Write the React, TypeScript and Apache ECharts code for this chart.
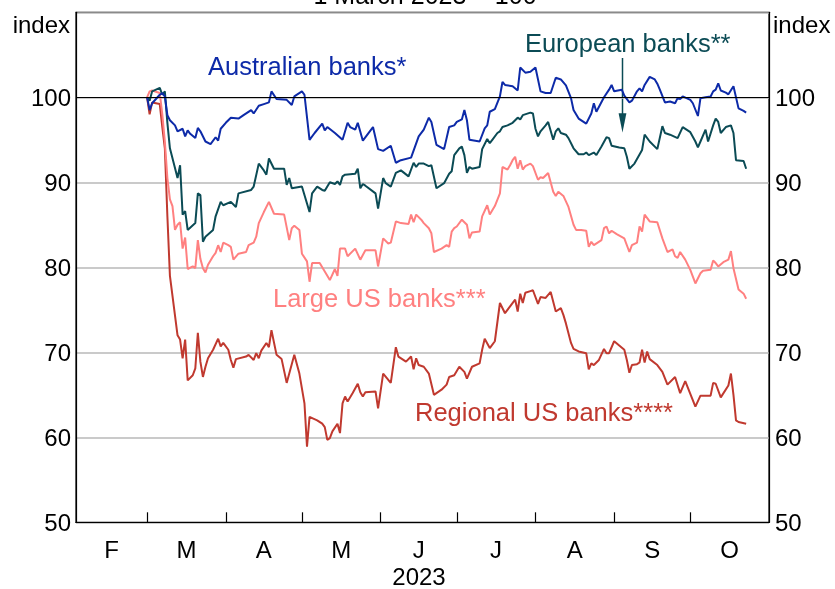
import { useEffect, useRef } from "react";
import * as echarts from "echarts";

const monthStarts = ["02-01", "03-01", "04-01", "05-01", "06-01", "07-01", "08-01", "09-01", "10-01", "11-01"];
const monthLabels = ["F", "M", "A", "M", "J", "J", "A", "S", "O"];
const yearLabel = "2023";
const yTickValues = [50, 60, 70, 80, 90, 100];

const australianBanks: [string, number][] = [
  ["03-01", 100], ["03-02", 98.5], ["03-03", 99.3], ["03-06", 100.3], ["03-07", 100.5], ["03-08", 100.1], ["03-09", 97.9], ["03-10", 97.3], ["03-12", 96.7], ["03-13", 96.0], ["03-15", 96.3], ["03-16", 95.4], ["03-17", 96.1], ["03-18", 95.7], ["03-20", 95.2], ["03-21", 96.4], ["03-22", 96.0], ["03-24", 94.8], ["03-26", 94.5], ["03-28", 95.3], ["03-29", 94.9], ["03-30", 96.3],
  ["04-01", 97.0], ["04-03", 97.6], ["04-06", 97.5], ["04-08", 97.9], ["04-11", 98.5], ["04-12", 98.1], ["04-14", 99.0], ["04-16", 99.2], ["04-18", 99.4], ["04-19", 100.7], ["04-21", 99.8], ["04-25", 99.7], ["04-27", 99.1], ["04-28", 100.1],
  ["05-01", 100.7], ["05-02", 100.3], ["05-04", 95.0], ["05-06", 95.8], ["05-09", 96.9], ["05-10", 96.1], ["05-11", 96.5], ["05-14", 95.8], ["05-17", 95.0], ["05-19", 97.0], ["05-20", 96.5], ["05-22", 96.2], ["05-23", 97.0], ["05-25", 94.9], ["05-29", 96.5], ["05-31", 93.9],
  ["06-02", 93.7], ["06-05", 94.3], ["06-07", 92.3], ["06-09", 92.6], ["06-13", 92.9], ["06-16", 95.4], ["06-18", 96.2], ["06-20", 97.6], ["06-21", 97.1], ["06-23", 94.4], ["06-26", 93.9], ["06-28", 96.5], ["06-30", 96.7],
  ["07-01", 97.1], ["07-03", 97.4], ["07-04", 98.5], ["07-05", 97.3], ["07-06", 95.0], ["07-10", 94.8], ["07-12", 96.35], ["07-13", 96.7], ["07-14", 98.3], ["07-16", 98.6], ["07-18", 100.1], ["07-19", 101.8], ["07-20", 101.45], ["07-23", 101.3], ["07-25", 100.8], ["07-26", 103.5], ["07-28", 102.9], ["07-30", 103.0],
  ["08-01", 103.5], ["08-03", 100.7], ["08-05", 100.5], ["08-07", 100.5], ["08-09", 102.3], ["08-11", 102.1], ["08-13", 101.4], ["08-15", 99.9], ["08-16", 98.5], ["08-18", 97.5], ["08-21", 96.9], ["08-23", 98.1], ["08-24", 99.3], ["08-25", 98.3], ["08-28", 100.0], ["08-30", 100.9], ["08-31", 101.45],
  ["09-01", 100.7], ["09-04", 100.9], ["09-05", 100.2], ["09-07", 99.4], ["09-08", 99.6], ["09-10", 100.7], ["09-11", 101.05], ["09-12", 100.7], ["09-13", 101.45], ["09-15", 102.4], ["09-17", 102.1], ["09-18", 101.6], ["09-19", 100.9], ["09-21", 99.4], ["09-23", 99.5], ["09-25", 99.3], ["09-26", 99.9], ["09-27", 99.8], ["09-28", 100.1],
  ["10-01", 99.7], ["10-02", 99.3], ["10-04", 97.8], ["10-05", 99.9], ["10-07", 100.0], ["10-09", 100.1], ["10-10", 100.7], ["10-11", 100.9], ["10-12", 101.65], ["10-13", 100.8], ["10-15", 100.55], ["10-16", 100.35], ["10-18", 101.3], ["10-20", 98.7], ["10-22", 98.4], ["10-23", 98.2],
];

const europeanBanks: [string, number][] = [
  ["03-01", 100], ["03-02", 99.6], ["03-03", 100.7], ["03-06", 101.1], ["03-07", 100.3], ["03-08", 100.7], ["03-09", 97.0], ["03-10", 94.0], ["03-13", 90.5], ["03-14", 92.0], ["03-15", 86.2], ["03-16", 86.6], ["03-17", 84.4], ["03-20", 85.2], ["03-21", 88.7], ["03-22", 88.5], ["03-23", 83.0], ["03-24", 83.6], ["03-27", 84.4], ["03-28", 86.0], ["03-30", 87.7], ["03-31", 87.3],
  ["04-03", 87.7], ["04-05", 87.1], ["04-06", 88.7], ["04-11", 89.1], ["04-12", 89.5], ["04-14", 92.2], ["04-16", 91.4], ["04-17", 90.9], ["04-18", 92.8], ["04-20", 91.6], ["04-24", 91.6], ["04-25", 89.7], ["04-26", 90.5], ["04-27", 89.3],
  ["05-01", 89.5], ["05-03", 87.5], ["05-04", 86.5], ["05-05", 88.7], ["05-07", 89.5], ["05-09", 89.1], ["05-10", 89.0], ["05-12", 90.0], ["05-14", 89.8], ["05-15", 90.1], ["05-16", 89.7], ["05-17", 90.7], ["05-18", 90.9], ["05-22", 91.0], ["05-23", 91.6], ["05-24", 89.3], ["05-25", 89.8], ["05-26", 89.6], ["05-30", 88.7], ["05-31", 86.9],
  ["06-02", 90.5], ["06-03", 89.9], ["06-05", 89.5], ["06-07", 91.1], ["06-09", 91.4], ["06-12", 90.7], ["06-14", 92.3], ["06-15", 91.8], ["06-16", 92.2], ["06-18", 92.2], ["06-20", 91.9], ["06-21", 92.0], ["06-23", 89.3], ["06-26", 89.9], ["06-28", 91.0], ["06-29", 91.3], ["06-30", 93.2],
  ["07-02", 94.0], ["07-03", 94.2], ["07-04", 93.2], ["07-05", 91.1], ["07-06", 91.8], ["07-07", 91.6], ["07-10", 91.8], ["07-11", 93.9], ["07-13", 95.1], ["07-14", 94.6], ["07-15", 95.0], ["07-17", 95.8], ["07-18", 96.0], ["07-19", 96.5], ["07-21", 96.7], ["07-23", 97.0], ["07-24", 97.3], ["07-25", 97.6], ["07-26", 97.4], ["07-27", 97.9], ["07-30", 98.2], ["07-31", 98.1],
  ["08-01", 96.3], ["08-02", 95.4], ["08-03", 96.0], ["08-05", 96.7], ["08-06", 97.1], ["08-08", 95.0], ["08-09", 96.0], ["08-10", 96.35], ["08-11", 95.8], ["08-13", 95.6], ["08-14", 95.2], ["08-16", 94.0], ["08-18", 93.3], ["08-20", 93.3], ["08-21", 93.5], ["08-22", 93.2], ["08-24", 93.5], ["08-25", 93.2], ["08-27", 94.2], ["08-29", 95.3], ["08-30", 95.2], ["08-31", 94.3],
  ["09-03", 94.1], ["09-05", 94.0], ["09-06", 93.0], ["09-07", 91.6], ["09-09", 92.2], ["09-12", 93.8], ["09-13", 95.6], ["09-15", 94.8], ["09-18", 93.9], ["09-20", 96.6], ["09-21", 95.8], ["09-23", 95.6], ["09-26", 95.2], ["09-28", 96.5],
  ["10-01", 95.9], ["10-03", 94.8], ["10-04", 94.1], ["10-05", 94.8], ["10-07", 96.2], ["10-08", 94.8], ["10-10", 96.7], ["10-11", 97.5], ["10-12", 97.1], ["10-13", 95.8], ["10-15", 96.5], ["10-17", 96.7], ["10-18", 95.8], ["10-19", 92.6], ["10-22", 92.5], ["10-23", 91.6],
];

const largeUSBanks: [string, number][] = [
  ["03-01", 100], ["03-02", 100.7], ["03-03", 100.8], ["03-06", 100.5], ["03-07", 98.0], ["03-08", 94.8], ["03-09", 90.5], ["03-10", 88.0], ["03-11", 87.2], ["03-12", 84.4], ["03-13", 85.0], ["03-14", 85.3], ["03-15", 82.2], ["03-16", 83.5], ["03-17", 79.8], ["03-19", 80.1], ["03-20", 79.9], ["03-21", 83.2], ["03-22", 81.0], ["03-23", 79.9], ["03-24", 79.4], ["03-25", 80.3], ["03-27", 81.3], ["03-28", 81.7], ["03-29", 82.6], ["03-30", 81.8], ["03-31", 82.9],
  ["04-02", 82.6], ["04-03", 82.4], ["04-04", 80.9], ["04-06", 81.6], ["04-09", 81.8], ["04-10", 82.6], ["04-12", 82.9], ["04-13", 83.6], ["04-14", 85.2], ["04-16", 86.5], ["04-18", 87.7], ["04-20", 86.3], ["04-24", 86.2], ["04-26", 83.2], ["04-27", 84.6], ["04-28", 84.9], ["04-30", 84.4],
  ["05-01", 81.6], ["05-03", 80.7], ["05-04", 78.3], ["05-05", 80.5], ["05-08", 80.5], ["05-10", 79.5], ["05-12", 78.5], ["05-14", 79.8], ["05-15", 79.0], ["05-16", 82.2], ["05-18", 82.2], ["05-19", 81.3], ["05-22", 82.2], ["05-24", 80.9], ["05-26", 82.0], ["05-30", 82.0], ["05-31", 80.1],
  ["06-02", 83.4], ["06-04", 82.8], ["06-05", 82.9], ["06-07", 85.4], ["06-09", 85.2], ["06-12", 85.1], ["06-13", 86.2], ["06-14", 85.3], ["06-15", 86.2], ["06-17", 85.6], ["06-18", 85.2], ["06-20", 84.6], ["06-21", 84.0], ["06-22", 81.8], ["06-25", 82.2], ["06-27", 82.6], ["06-28", 82.4], ["06-29", 84.2], ["06-30", 84.6],
  ["07-01", 84.8], ["07-03", 85.6], ["07-05", 85.0], ["07-06", 83.4], ["07-07", 84.1], ["07-10", 84.2], ["07-11", 86.0], ["07-13", 87.3], ["07-14", 86.2], ["07-16", 87.2], ["07-18", 88.7], ["07-19", 91.8], ["07-21", 91.5], ["07-22", 92.0], ["07-23", 92.6], ["07-24", 93.0], ["07-25", 91.6], ["07-26", 92.6], ["07-27", 91.5], ["07-28", 91.9], ["07-30", 92.2], ["07-31", 91.9],
  ["08-02", 90.3], ["08-03", 90.6], ["08-04", 90.5], ["08-06", 91.1], ["08-08", 88.9], ["08-09", 88.4], ["08-10", 88.9], ["08-12", 88.4], ["08-14", 87.1], ["08-16", 85.0], ["08-17", 84.4], ["08-19", 84.4], ["08-21", 84.3], ["08-22", 82.4], ["08-23", 83.0], ["08-24", 82.6], ["08-27", 83.2], ["08-28", 84.6], ["08-29", 84.8], ["08-30", 84.0], ["08-31", 84.3],
  ["09-02", 83.9], ["09-05", 83.4], ["09-07", 81.8], ["09-08", 82.6], ["09-10", 82.9], ["09-11", 84.8], ["09-12", 84.2], ["09-13", 86.2], ["09-15", 85.4], ["09-18", 85.3], ["09-20", 83.4], ["09-22", 81.8], ["09-24", 82.1], ["09-25", 81.3], ["09-26", 81.1], ["09-27", 81.8], ["09-29", 80.9],
  ["10-01", 79.7], ["10-03", 78.1], ["10-05", 79.3], ["10-06", 79.6], ["10-09", 79.7], ["10-10", 80.8], ["10-11", 80.5], ["10-12", 80.1], ["10-14", 80.6], ["10-16", 80.9], ["10-17", 81.9], ["10-18", 79.9], ["10-20", 77.4], ["10-22", 76.9], ["10-23", 76.3],
];

const regionalUSBanks: [string, number][] = [
  ["03-01", 100], ["03-02", 98.0], ["03-03", 99.4], ["03-06", 99.2], ["03-07", 96.5], ["03-08", 94.0], ["03-09", 86.0], ["03-10", 79.0], ["03-13", 72.0], ["03-14", 71.5], ["03-15", 69.3], ["03-16", 71.5], ["03-17", 66.7], ["03-19", 67.3], ["03-20", 68.1], ["03-21", 72.3], ["03-22", 68.9], ["03-23", 67.1], ["03-24", 68.3], ["03-25", 69.3], ["03-27", 70.3], ["03-29", 71.6], ["03-30", 70.7], ["03-31", 71.1],
  ["04-02", 70.3], ["04-03", 69.1], ["04-04", 68.2], ["04-05", 69.2], ["04-09", 69.5], ["04-10", 69.7], ["04-12", 69.1], ["04-13", 69.9], ["04-14", 69.3], ["04-15", 70.2], ["04-17", 71.1], ["04-18", 70.6], ["04-19", 72.6], ["04-21", 69.7], ["04-23", 69.2], ["04-25", 66.4], ["04-28", 69.7], ["04-30", 67.5],
  ["05-02", 64.0], ["05-03", 58.9], ["05-04", 62.4], ["05-07", 62.0], ["05-09", 61.6], ["05-10", 61.2], ["05-11", 59.7], ["05-12", 59.9], ["05-13", 60.7], ["05-15", 61.6], ["05-16", 60.5], ["05-17", 64.0], ["05-18", 64.8], ["05-19", 64.2], ["05-21", 65.2], ["05-23", 66.3], ["05-24", 65.3], ["05-25", 64.8], ["05-26", 65.3], ["05-30", 65.4], ["05-31", 63.4],
  ["06-02", 67.5], ["06-05", 66.4], ["06-07", 70.6], ["06-08", 69.5], ["06-11", 68.9], ["06-13", 69.5], ["06-14", 68.0], ["06-15", 69.3], ["06-16", 68.5], ["06-18", 68.3], ["06-20", 67.5], ["06-22", 65.0], ["06-25", 65.6], ["06-27", 66.2], ["06-28", 67.1], ["06-30", 67.3],
  ["07-02", 68.3], ["07-04", 67.7], ["07-05", 66.9], ["07-07", 68.3], ["07-10", 68.7], ["07-11", 70.3], ["07-12", 71.6], ["07-14", 70.5], ["07-16", 71.3], ["07-18", 75.8], ["07-20", 74.6], ["07-22", 75.4], ["07-24", 76.2], ["07-25", 74.8], ["07-26", 76.9], ["07-27", 75.8], ["07-28", 77.0], ["07-30", 77.2], ["07-31", 77.3],
  ["08-02", 75.7], ["08-03", 76.5], ["08-05", 76.4], ["08-07", 77.1], ["08-09", 74.8], ["08-11", 75.2], ["08-12", 74.4], ["08-13", 73.4], ["08-15", 71.1], ["08-16", 70.4], ["08-18", 70.1], ["08-21", 69.9], ["08-22", 68.0], ["08-23", 68.7], ["08-24", 68.5], ["08-26", 69.1], ["08-28", 70.4], ["08-29", 69.9], ["08-30", 69.9],
  ["09-01", 71.3], ["09-03", 70.8], ["09-05", 70.3], ["09-06", 69.1], ["09-07", 67.6], ["09-08", 68.5], ["09-10", 68.6], ["09-11", 68.8], ["09-12", 70.3], ["09-13", 68.8], ["09-14", 70.1], ["09-15", 69.2], ["09-18", 68.5], ["09-20", 67.7], ["09-22", 66.2], ["09-25", 67.1], ["09-27", 65.2], ["09-29", 66.6],
  ["10-03", 63.6], ["10-05", 64.9], ["10-09", 64.9], ["10-10", 66.4], ["10-11", 66.3], ["10-13", 64.7], ["10-16", 66.1], ["10-17", 67.5], ["10-18", 65.0], ["10-19", 62.0], ["10-20", 61.8], ["10-23", 61.6],
];

const FONT = '"Liberation Sans", Arial, sans-serif';
const BLUE = "#0d2aa8";
const TEAL = "#0b4b55";
const PINK = "#ff8080";
const RED = "#c0392f";

const dayOf = (md: string) => {
  const [m, d] = md.split("-").map(Number);
  return (Date.UTC(2023, m - 1, d) - Date.UTC(2023, 1, 1)) / 86400000;
};

const startDays = monthStarts.map(dayOf);
const tickDays = startDays.slice(1, -1);
const labelDays = startDays.slice(0, -1).map((s, i) => (s + startDays[i + 1]) / 2);

const toSeries = (arr: [string, number][]) => arr.map(([d, v]) => [dayOf(d), v]);

export default function App() {
  const ref = useRef<HTMLDivElement>(null);
  useEffect(() => {
    if (!ref.current) return;
    const chart = echarts.init(ref.current, undefined, { renderer: "svg" });
    const lineSeries = (name: string, data: [string, number][], color: string, extra: any = {}) => ({
      name,
      type: "line",
      data: toSeries(data),
      showSymbol: false,
      symbol: "none",
      lineStyle: { color, width: 2 },
      itemStyle: { color },
      silent: true,
      ...extra,
    });
    const yAxisCommon = {
      type: "value",
      min: 50,
      max: 110,
      interval: 10,
      axisLine: { show: true, lineStyle: { color: "#000", width: 1.2 } },
      axisTick: { show: false },
    };
    chart.setOption({
      animation: false,
      grid: {
        left: 76,
        right: 66,
        top: 12.3,
        bottom: 66.7,
        show: true,
        borderColor: "#000",
        borderWidth: 1.2,
        backgroundColor: "transparent",
      },
      xAxis: {
        type: "value",
        min: 0,
        max: startDays[startDays.length - 1],
        axisLine: { show: true, onZero: false, lineStyle: { color: "#000", width: 1.2 } },
        axisTick: { show: true, inside: true, length: 10, customValues: tickDays, lineStyle: { color: "#000", width: 1.2 } },
        axisLabel: {
          customValues: labelDays,
          formatter: (v: number) => {
            const i = labelDays.findIndex((x) => Math.abs(x - v) < 0.01);
            return i >= 0 ? monthLabels[i] : "";
          },
          color: "#000",
          fontSize: 24,
          fontFamily: FONT,
          margin: 26.7,
          verticalAlign: "middle",
        },
        splitLine: { show: false },
      },
      yAxis: [
        {
          ...yAxisCommon,
          position: "left",
          axisLabel: { customValues: yTickValues, color: "#000", fontSize: 24, fontFamily: FONT, margin: 5 },
          splitLine: { show: true, lineStyle: { color: "#b8b8b8", width: 1.5 } },
        },
        {
          ...yAxisCommon,
          position: "right",
          axisLabel: { customValues: yTickValues, color: "#000", fontSize: 24, fontFamily: FONT, margin: 6 },
          splitLine: { show: false },
        },
      ],
      series: [
        lineSeries("Regional US banks", regionalUSBanks, RED, {
          markLine: {
            silent: true,
            symbol: ["none", "none"],
            label: { show: false },
            lineStyle: { color: "#000", width: 1.2, type: "solid" },
            data: [{ yAxis: 100 }],
          },
        }),
        lineSeries("Large US banks", largeUSBanks, PINK),
        lineSeries("European banks", europeanBanks, TEAL),
        lineSeries("Australian banks", australianBanks, BLUE),
      ],
      graphic: [
        { type: "text", x: 425, y: -4.7, style: { text: "1 March 2023 = 100", fontSize: 25, fontFamily: FONT, fill: "#000", align: "center", verticalAlign: "middle" } },
        { type: "text", x: 70, y: 24, style: { text: "index", fontSize: 24, fontFamily: FONT, fill: "#000", align: "right", verticalAlign: "middle" } },
        { type: "text", x: 773, y: 24, style: { text: "index", fontSize: 24, fontFamily: FONT, fill: "#000", align: "left", verticalAlign: "middle" } },
        { type: "text", x: 419, y: 576, style: { text: yearLabel, fontSize: 24, fontFamily: FONT, fill: "#000", align: "center", verticalAlign: "middle" } },
        { type: "text", x: 208, y: 66, style: { text: "Australian banks*", fontSize: 25.5, fontFamily: FONT, fill: BLUE, align: "left", verticalAlign: "middle" } },
        { type: "text", x: 730.5, y: 42.8, style: { text: "European banks**", fontSize: 25.5, fontFamily: FONT, fill: TEAL, align: "right", verticalAlign: "middle" } },
        { type: "text", x: 273, y: 298.2, style: { text: "Large US banks***", fontSize: 25.5, fontFamily: FONT, fill: PINK, align: "left", verticalAlign: "middle" } },
        { type: "text", x: 415, y: 411.6, style: { text: "Regional US banks****", fontSize: 25.5, fontFamily: FONT, fill: RED, align: "left", verticalAlign: "middle" } },
        { type: "line", shape: { x1: 622.5, y1: 58, x2: 622.5, y2: 116 }, style: { stroke: TEAL, lineWidth: 1.5 } },
        { type: "polygon", shape: { points: [[618.6, 113.3], [626.4, 113.3], [622.5, 132.5]] }, style: { fill: TEAL } },
      ],
    });
    return () => chart.dispose();
  }, []);
  return <div ref={ref} style={{ position: "fixed", left: 0, top: 0, width: 835, height: 589 }} />;
}
